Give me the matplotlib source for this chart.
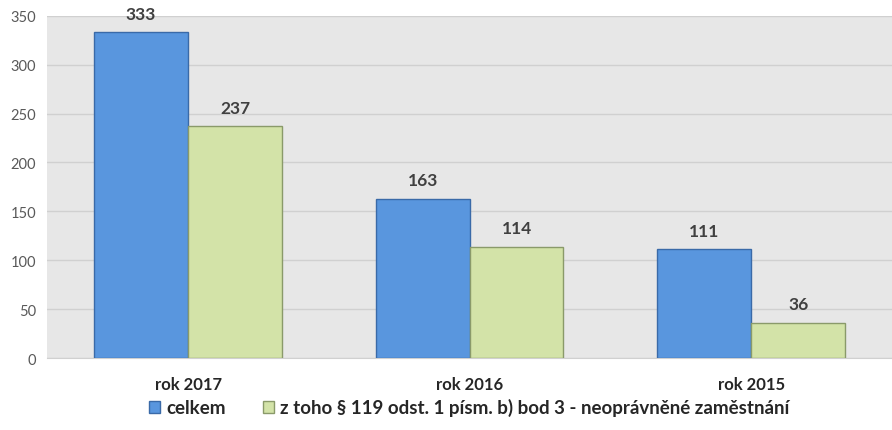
import numpy as np
import matplotlib.pyplot as plt

kategorie = ['rok 2017', 'rok 2016', 'rok 2015']
celkem = [333, 163, 111]
z_toho = [237, 114, 36]
nazvy = ['celkem', 'z toho § 119 odst. 1 písm. b) bod 3 - neoprávněné zaměstnání']

plt.rcParams['font.family'] = ['Lato', 'DejaVu Sans']

fig = plt.figure(figsize=(8.92, 4.31), dpi=100)
ax = fig.add_axes([0.053, 0.167, 0.947, 0.794])
ax.set_facecolor('#e7e7e7')

x = np.arange(len(kategorie))
w = 1 / 3
b1 = ax.bar(x - w / 2, celkem, w, color='#5996de', edgecolor='#3a6aa8', linewidth=1.0,
            label=nazvy[0], zorder=3)
b2 = ax.bar(x + w / 2, z_toho, w, color='#d3e3a8', edgecolor='#8a9a6a', linewidth=1.0,
            label=nazvy[1], zorder=3)

for bars in (b1, b2):
    for r in bars:
        ax.text(r.get_x() + r.get_width() / 2, r.get_height() + 11, f'{int(r.get_height())}',
                ha='center', va='bottom', fontsize=12.5, fontweight='bold', color='#404040')

ax.set_xlim(-0.5, 2.5)
ax.set_ylim(0, 350)
ax.set_yticks(range(0, 351, 50))
ax.yaxis.grid(True, color='#d0d0d0', linewidth=1, zorder=0)
ax.set_xticks(x)
ax.set_xticklabels(kategorie, fontsize=12, fontweight='bold', color='#262626')
ax.tick_params(axis='y', length=0, labelsize=10.5, labelcolor='#595959', pad=8)
ax.tick_params(axis='x', length=0, pad=13)
for s in ax.spines.values():
    s.set_visible(False)
ax.spines['bottom'].set_visible(True)
ax.spines['bottom'].set_color('#d0d0d0')

leg = fig.legend(loc='center', bbox_to_anchor=(0.526, 0.053), ncol=2, frameon=False,
                 handlelength=0.6, handleheight=0.6, handletextpad=0.3, columnspacing=2.0,
                 prop={'size': 13.5, 'weight': 'bold'})
for t in leg.get_texts():
    t.set_color('#262626')

fig.savefig('out.png', dpi=100)
